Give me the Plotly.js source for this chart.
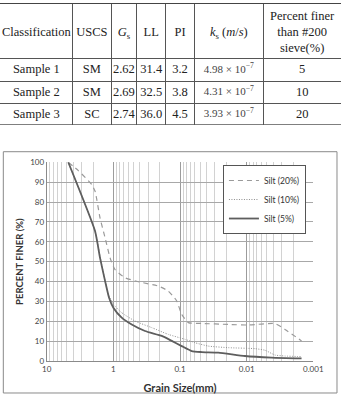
<!DOCTYPE html>
<html>
<head>
<meta charset="utf-8">
<script src="https://cdn.plot.ly/plotly-3.0.1.min.js"></script>
<style>
  html, body { margin: 0; padding: 0; background: #fff; overflow: hidden; }
  #chart { position: absolute; left: -2px; top: 0; width: 345px; height: 396px; }
</style>
</head>
<body>
<div id="chart"></div>
<script>
// ---- soil properties table ----
const headerLabels = ['Classification', 'USCS', '<i>G</i><sub>s</sub>', 'LL', 'PI',
                      '<i>k</i><sub>s</sub> (<i>m</i>/<i>s</i>)', 'Percent finer<br>than #200<br>sieve(%)'];
const samples = ['Sample 1', 'Sample 2', 'Sample 3'];
const uscs = ['SM', 'SM', 'SC'];
const specificGravity = ['2.62', '2.69', '2.74'];
const liquidLimit = ['31.4', '32.5', '36.0'];
const plasticityIndex = ['3.2', '3.8', '4.5'];
const permeabilityMantissa = ['4.98', '4.31', '3.93'];
const permeabilityExponent = -7;
const percentFiner200 = [5, 10, 20];

// ---- grain size distribution curves (diameter in mm, percent finer) ----
const tickDiameters = [10, 1, 0.1, 0.01, 0.001];
const tickLabels = ['10', '1', '0.1', '0.01', '0.001'];

const silt20Size = [4.75, 3.35, 2.11, 1.88, 1.585, 1.33, 1.12, 0.944, 0.668, 0.422, 0.211, 0.15, 0.112, 0.0944, 0.075, 0.0473, 0.0188, 0.00944, 0.00376, 0.00266, 0.0015];
const silt20Pct  = [100, 95.8, 88.8, 85.4, 72, 62, 51.9, 46, 41.9, 39.9, 37.7, 35.2, 30.2, 23.5, 19.3, 18.9, 18.4, 18.1, 18.8, 15.9, 10.1];

const silt10Size = [4.75, 1.88, 1.5, 1.19, 1.0, 0.75, 0.473, 0.266, 0.15, 0.0841, 0.0596, 0.0376, 0.0188, 0.0075, 0.0053, 0.00376, 0.00266, 0.0015];
const silt10Pct  = [100, 65.3, 48.6, 33.5, 28.5, 24.3, 20.1, 16.8, 13.4, 10.9, 9.2, 7.5, 6.7, 6.2, 5.4, 3.0, 2.5, 2.2];

const silt5Size = [4.75, 1.88, 1.585, 1.33, 1.16, 1.0, 0.75, 0.53, 0.335, 0.188, 0.133, 0.0944, 0.0668, 0.0473, 0.0266, 0.0106, 0.00422, 0.0015];
const silt5Pct  = [100, 65.3, 51.9, 40.2, 31.8, 26.8, 21.8, 18.4, 15.1, 12.6, 10.1, 7.5, 5.0, 4.5, 4.2, 2.5, 1.7, 1.3];

const serif = 'Liberation Serif, Times New Roman, serif';
const sans = 'Lato, Open Sans, sans-serif';

// Table grid geometry (page pixels): column rules and row rules
const colRules = [0, 72.7, 111, 136.7, 165.7, 194.3, 263.3, 341];
const rowRules = [3, 58, 81, 103, 125];

const permeability = permeabilityMantissa.map(m => m + ' × 10<sup>−' + Math.abs(permeabilityExponent) + '</sup>');
const tableColumns = [samples, uscs, specificGravity, liquidLimit, plasticityIndex, permeability, percentFiner200.map(String)];

// Flatten the table into one text trace placed on a hidden grid axis pair
const cellX = [], cellY = [], cellText = [], cellSize = [], cellColor = [];
tableColumns.forEach((col, c) => {
  const cx = (colRules[c] + colRules[c + 1]) / 2;
  cellX.push(cx); cellY.push((rowRules[0] + rowRules[1]) / 2 + 2.5); cellText.push(headerLabels[c]);
  cellSize.push(12.5); cellColor.push('#222');
  col.forEach((v, r) => {
    cellX.push(cx); cellY.push((rowRules[r + 1] + rowRules[r + 2]) / 2 + 0.5); cellText.push(v);
    cellSize.push(c === 5 ? 11 : 12.5); cellColor.push(c === 5 ? '#444' : '#222');
  });
});

const tableTrace = {
  type: 'scatter', mode: 'text', xaxis: 'x2', yaxis: 'y2',
  x: cellX, y: cellY, text: cellText, textposition: 'middle center',
  textfont: { family: serif, size: cellSize, color: cellColor },
  hoverinfo: 'skip', showlegend: false, cliponaxis: false
};

const curveTraces = [
  { name: 'Silt (20%)', x: silt20Size, y: silt20Pct, line: { color: '#9a9a9a', width: 1.2, dash: '5px,4px', shape: 'spline', smoothing: 0.5 } },
  { name: 'Silt (10%)', x: silt10Size, y: silt10Pct, line: { color: '#8e8e8e', width: 1, dash: '1px,1.5px', shape: 'spline', smoothing: 0.5 } },
  { name: 'Silt (5%)',  x: silt5Size,  y: silt5Pct,  line: { color: '#5e5e5e', width: 1.8, shape: 'spline', smoothing: 0.5 } }
].map(t => Object.assign({ type: 'scatter', mode: 'lines', xaxis: 'x', yaxis: 'y', hoverinfo: 'x+y' }, t));

const H = 396;
const layout = {
  width: 345,
  height: H,
  margin: { l: 0, r: 0, t: 0, b: 0 },
  paper_bgcolor: '#fff',
  plot_bgcolor: 'rgba(0,0,0,0)',
  font: { family: sans, color: '#333' },
  showlegend: true,
  legend: {
    x: 0.652, y: 0.5833, xanchor: 'left', yanchor: 'top',
    bgcolor: '#fff', bordercolor: '#555', borderwidth: 1,
    font: { family: sans, size: 8.5, color: '#333' },
    traceorder: 'normal'
  },
  // grain size chart axes
  xaxis: {
    type: 'log',
    domain: [0.1412, 0.9139],
    range: [1, -3],
    anchor: 'y',
    tickmode: 'array',
    tickvals: tickDiameters,
    ticktext: tickLabels,
    ticks: '',
    tickfont: { family: sans, size: 8, color: '#444' },
    showgrid: true,
    gridcolor: '#9c9c9c',
    gridwidth: 1,
    minor: { tickmode: 'linear', dtick: 'D1', showgrid: true, gridcolor: '#d2d2d2', gridwidth: 1, ticks: '' },
    showline: true,
    linecolor: '#8a8a8a',
    zeroline: false,
    title: { text: '<b>Grain Size(mm)</b>', font: { family: sans, size: 11, color: '#333' }, standoff: 11 }
  },
  yaxis: {
    domain: [0.0884, 0.5902],
    range: [0, 100],
    anchor: 'x',
    dtick: 10,
    ticks: '',
    tickfont: { family: sans, size: 8, color: '#444' },
    showgrid: true,
    gridcolor: '#a8a8a8',
    showline: true,
    linecolor: '#8a8a8a',
    zeroline: false,
    title: { text: '<b>PERCENT FINER (%)</b>', font: { family: sans, size: 9.5, color: '#333' }, standoff: 4 }
  },
  // table grid axes in page pixels (hidden, gridlines form the rules)
  xaxis2: {
    domain: [0, 1], range: [-2, 343], anchor: 'y2',
    tickmode: 'array', tickvals: colRules.slice(1, -1),
    showticklabels: false, ticks: '', showgrid: true, gridcolor: '#555', gridwidth: 1,
    zeroline: false, showline: false, fixedrange: true
  },
  yaxis2: {
    domain: [1 - rowRules[rowRules.length - 1] / H, 1 - rowRules[0] / H],
    range: [rowRules[rowRules.length - 1], rowRules[0]], anchor: 'x2',
    tickmode: 'array', tickvals: rowRules.slice(1, -1),
    showticklabels: false, ticks: '', showgrid: true, gridcolor: '#555', gridwidth: 1,
    zeroline: false, showline: false, fixedrange: true
  },
  shapes: [
    // heavy rules above and below the table
    { type: 'line', xref: 'paper', yref: 'y2', x0: 0, x1: 1, y0: rowRules[0], y1: rowRules[0], line: { color: '#444', width: 2 } },
    { type: 'line', xref: 'paper', yref: 'y2', x0: 0, x1: 1, y0: rowRules[rowRules.length - 1], y1: rowRules[rowRules.length - 1], line: { color: '#555', width: 1.5 } },
    // frame around the grain size chart
    { type: 'rect', xref: 'paper', yref: 'paper', x0: 0.0154, x1: 0.9826, y0: 0.0076, y1: 0.6169, line: { color: '#8a8a8a', width: 1 } }
  ]
};

Plotly.newPlot('chart', [tableTrace].concat(curveTraces), layout, { displayModeBar: false, staticPlot: true });
</script>
</body>
</html>
